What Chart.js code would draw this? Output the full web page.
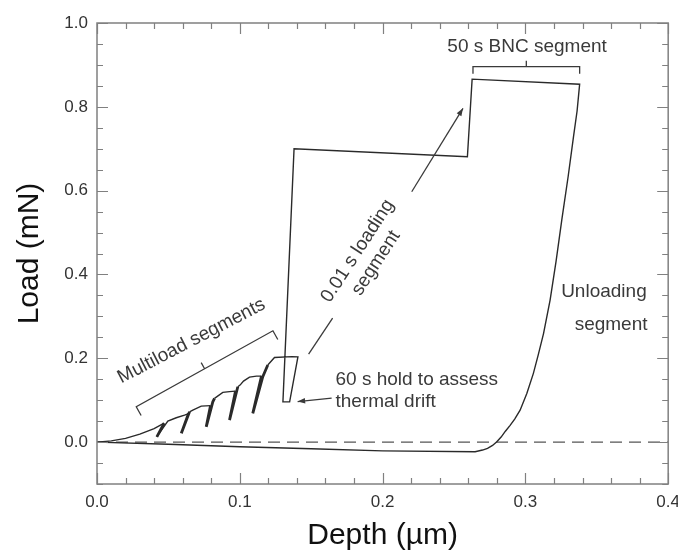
<!DOCTYPE html>
<html>
<head>
<meta charset="utf-8">
<script src="https://cdn.jsdelivr.net/npm/chart.js@4.4.1/dist/chart.umd.min.js"></script>
<style>
  html, body { margin: 0; padding: 0; background: #fff; overflow: hidden; }
  #wrap { width: 688px; height: 556px; }
</style>
</head>
<body>
<div id="wrap"><canvas id="chart" width="688" height="556"></canvas></div>
<script>
// indentation trace, in recording order: multiload, drift hold, fast load, BNC hold, unload
const depth = [
  0, 0.010, 0.020, 0.030, 0.040, 0.047,
  0.0419, 0.0496, 0.0555, 0.0613, 0.0641,
  0.0590, 0.0648, 0.0671, 0.0730, 0.0795,
  0.0765, 0.0811, 0.0823, 0.0881, 0.0928, 0.0970,
  0.0928, 0.0986, 0.1002, 0.1026, 0.1068, 0.1117, 0.1152,
  0.1091, 0.1161, 0.1196, 0.1243, 0.1364, 0.1407,
  0.1349, 0.1302,
  0.1380, 0.2594, 0.2627, 0.3380,
  0.3362, 0.3337, 0.3300, 0.3255, 0.3215, 0.3173, 0.3127, 0.3090, 0.3056, 0.3010,
  0.2963, 0.2925, 0.2893, 0.2860, 0.2830, 0.2800, 0.2770, 0.2735, 0.2700, 0.2648,
  0.2000, 0.1500, 0.1000, 0.0500, 0
];
const load = [
  0, 0.003, 0.009, 0.019, 0.032, 0.045,
  0.0126, 0.050, 0.058, 0.0644, 0.068,
  0.0208, 0.0723, 0.0764, 0.0859, 0.0871,
  0.0365, 0.0962, 0.1043, 0.1186, 0.1205, 0.1217,
  0.0525, 0.132, 0.136, 0.1456, 0.1551, 0.1575, 0.1575,
  0.0685, 0.1559, 0.1838, 0.202, 0.204, 0.2035,
  0.096, 0.096,
  0.700, 0.681, 0.866, 0.854,
  0.790, 0.729, 0.635, 0.530, 0.432, 0.339, 0.259, 0.208, 0.164, 0.116,
  0.076, 0.055, 0.040, 0.026, 0.012, 0.001, -0.008, -0.015, -0.019, -0.023,
  -0.021, -0.016, -0.011, -0.005, 0
];
const zeroDepth = [0, 0.4];
const zeroLoad = [0, 0];

const xTicks = [0, 0.1, 0.2, 0.3, 0.4];
const yTicks = [0, 0.2, 0.4, 0.6, 0.8, 1.0];
const xMinorStep = 0.02;
const yMinorStep = 0.05;

const family = "'Liberation Sans', Arial, sans-serif";
const curve = depth.map((d, i) => ({ x: d, y: load[i] }));
const zero = zeroDepth.map((d, i) => ({ x: d, y: zeroLoad[i] }));

// annotation anchors, in data units
const texts = [
  { x: 0.0662, y: 0.241, angle: -27.5, lines: ['Multiload segments'] },
  { x: 0.3012, y: 0.943, angle: 0, lines: ['50 s BNC segment'] },
  { x: 0.1825, y: 0.456, angle: -57, lines: ['0.01 s loading', 'segment'] },
  { x: 0.167, y: 0.1492, angle: 0, align: 'left', lines: ['60 s hold to assess', 'thermal drift'] },
  { x: 0.355, y: 0.358, angle: 0, lines: ['Unloading'] },
  { x: 0.360, y: 0.279, angle: 0, lines: ['segment'] }
];
const brackets = [
  { x1: 0.0275, y1: 0.0842, x2: 0.1232, y2: 0.2656, end: 10, mid: 7 },
  { x1: 0.2633, y1: 0.8957, x2: 0.3380, y2: 0.8957, end: 7, mid: 6 }
];
const arrows = [
  { x1: 0.2204, y1: 0.5974, x2: 0.2563, y2: 0.7964, head: true },
  { x1: 0.1650, y1: 0.296, x2: 0.1482, y2: 0.210, head: false },
  { x1: 0.1643, y1: 0.105, x2: 0.1405, y2: 0.0967, head: true }
];

const frameColor = '#808080';

const framePlugin = {
  id: 'frame',
  afterDatasetsDraw(chart) {
    const { ctx, chartArea: a, scales: { x, y } } = chart;
    ctx.save();
    ctx.strokeStyle = frameColor;
    ctx.lineWidth = 1.5;
    ctx.strokeRect(a.left, a.top, a.right - a.left, a.bottom - a.top);
    ctx.lineWidth = 1.2;
    ctx.beginPath();
    for (let v = 0; v <= 0.4 + 1e-9; v += xMinorStep) {
      const major = Math.abs(v * 10 - Math.round(v * 10)) < 1e-6;
      const len = major ? 11 : 6;
      const px = Math.round(x.getPixelForValue(v)) + 0.5;
      ctx.moveTo(px, a.bottom); ctx.lineTo(px, a.bottom - len);
      ctx.moveTo(px, a.top); ctx.lineTo(px, a.top + len);
    }
    for (let v = -0.1; v <= 1.0 + 1e-9; v += yMinorStep) {
      const major = Math.abs(v * 5 - Math.round(v * 5)) < 1e-6;
      const len = major ? 11 : 6;
      const py = Math.round(y.getPixelForValue(v)) + 0.5;
      ctx.moveTo(a.left, py); ctx.lineTo(a.left + len, py);
      ctx.moveTo(a.right, py); ctx.lineTo(a.right - len, py);
    }
    ctx.stroke();
    ctx.restore();
  }
};

const notesPlugin = {
  id: 'notes',
  afterDatasetsDraw(chart) {
    const { ctx, scales: { x, y } } = chart;
    const P = (dx, dy) => [x.getPixelForValue(dx), y.getPixelForValue(dy)];
    ctx.save();
    ctx.strokeStyle = '#3a3a3a';
    ctx.fillStyle = '#3a3a3a';
    ctx.lineWidth = 1.3;

    brackets.forEach(b => {
      const [ax, ay] = P(b.x1, b.y1);
      const [bx, by] = P(b.x2, b.y2);
      const L = Math.hypot(bx - ax, by - ay);
      const nx = -(by - ay) / L, ny = (bx - ax) / L;
      const mx = (ax + bx) / 2, my = (ay + by) / 2;
      ctx.beginPath();
      ctx.moveTo(ax + nx * b.end, ay + ny * b.end);
      ctx.lineTo(ax, ay);
      ctx.lineTo(bx, by);
      ctx.lineTo(bx + nx * b.end, by + ny * b.end);
      ctx.moveTo(mx, my);
      ctx.lineTo(mx - nx * b.mid, my - ny * b.mid);
      ctx.stroke();
    });

    arrows.forEach(r => {
      const [ax, ay] = P(r.x1, r.y1);
      const [bx, by] = P(r.x2, r.y2);
      ctx.beginPath();
      ctx.moveTo(ax, ay);
      ctx.lineTo(bx, by);
      ctx.stroke();
      if (r.head) {
        const t = Math.atan2(by - ay, bx - ax);
        ctx.beginPath();
        ctx.moveTo(bx, by);
        ctx.lineTo(bx - 8 * Math.cos(t - 0.35), by - 8 * Math.sin(t - 0.35));
        ctx.lineTo(bx - 8 * Math.cos(t + 0.35), by - 8 * Math.sin(t + 0.35));
        ctx.closePath();
        ctx.fill();
      }
    });

    ctx.font = `19px ${family}`;
    ctx.textBaseline = 'middle';
    texts.forEach(t => {
      const [px, py] = P(t.x, t.y);
      ctx.save();
      ctx.translate(px, py);
      ctx.rotate(t.angle * Math.PI / 180);
      ctx.textAlign = t.align || 'center';
      t.lines.forEach((s, i) => ctx.fillText(s, 0, i * 22));
      ctx.restore();
    });
    ctx.restore();
  }
};

new Chart(document.getElementById('chart'), {
  type: 'scatter',
  data: {
    datasets: [
      {
        data: curve,
        showLine: true,
        borderColor: '#2a2a2a',
        borderWidth: 1.4,
        pointRadius: 0,
        segment: {
          // unload/reload loops of the multiload part look bolder
          borderWidth: c => {
            const p = curve[c.p0DataIndex];
            const steep = Math.abs(c.p1.y - c.p0.y) > 1.5 * Math.abs(c.p1.x - c.p0.x);
            return p.x < 0.125 && p.y < 0.2 && steep ? 2.8 : 1.4;
          }
        }
      },
      {
        data: zero,
        showLine: true,
        borderColor: '#555',
        borderWidth: 1.3,
        borderDash: [12, 7],
        pointRadius: 0
      }
    ]
  },
  options: {
    responsive: false,
    animation: false,
    layout: { padding: { top: 23, right: 0, bottom: 0, left: 0 } },
    plugins: { legend: { display: false }, tooltip: { enabled: false } },
    scales: {
      x: {
        type: 'linear',
        min: 0,
        max: 0.4,
        afterBuildTicks: s => { s.ticks = xTicks.map(v => ({ value: v })); },
        afterFit: s => { s.height = 72; },
        grid: { display: false, drawTicks: false },
        border: { display: false },
        ticks: { padding: 8, color: '#333', font: { family, size: 17 }, callback: v => v.toFixed(1) },
        title: { display: true, text: 'Depth (µm)', color: '#111', font: { family, size: 30 }, padding: { top: 0, bottom: 2 } }
      },
      y: {
        type: 'linear',
        min: -0.1,
        max: 1.0,
        afterBuildTicks: s => { s.ticks = yTicks.map(v => ({ value: v })); },
        afterFit: s => { s.width = 97; },
        grid: { display: false, drawTicks: false },
        border: { display: false },
        ticks: { padding: 9, color: '#333', font: { family, size: 17 }, callback: v => v.toFixed(1) },
        title: { display: true, text: 'Load (mN)', color: '#111', font: { family, size: 30 }, padding: { top: 12, bottom: 0 } }
      }
    }
  },
  plugins: [framePlugin, notesPlugin]
});
</script>
</body>
</html>
